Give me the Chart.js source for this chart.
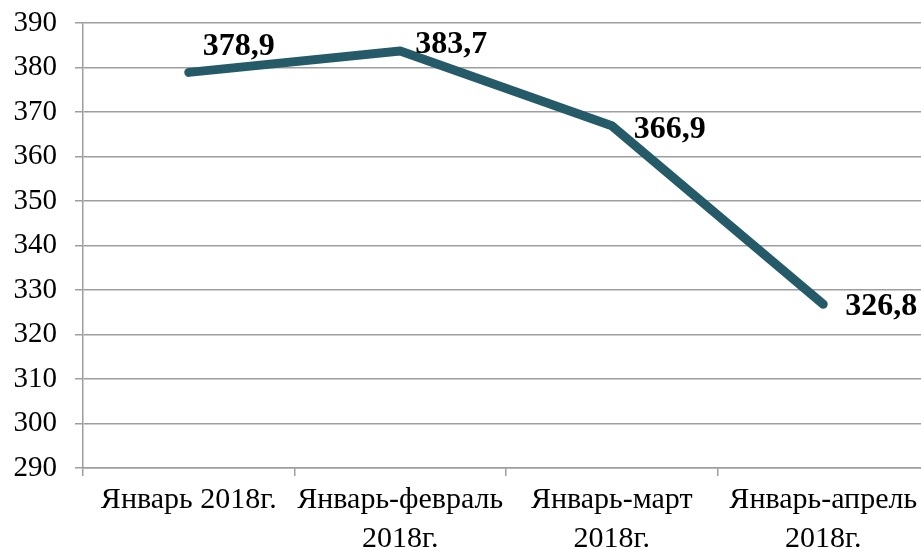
<!DOCTYPE html>
<html lang="ru">
<head>
    <meta charset="UTF-8">
    <title>Январь-апрель 2018г.</title>
    <script src="https://cdn.jsdelivr.net/npm/chart.js"></script>
    <style>
        html, body {
            margin: 0;
            padding: 0;
            background: #ffffff;
            overflow: hidden;
        }
        .wrap {
            position: relative;
            width: 940px;
            height: 549px;
        }
    </style>
</head>
<body>
    <div class="wrap">
        <canvas id="chart"></canvas>
    </div>

    <script>
        // Data
        const categories = [
            ['Январь 2018г.'],
            ['Январь-февраль', '2018г.'],
            ['Январь-март', '2018г.'],
            ['Январь-апрель', '2018г.']
        ];
        const values = [378.9, 383.7, 366.9, 326.8];
        const valueLabels = ['378,9', '383,7', '366,9', '326,8'];
        const yTicks = [290, 300, 310, 320, 330, 340, 350, 360, 370, 380, 390];

        const serif = "'Liberation Serif', 'Times New Roman', serif";

        // label offsets relative to the point (dx, dy)
        const labelShift = [[14, -26], [15, -6], [22, 4], [22, 2]];

        const valueLabelPlugin = {
            id: 'valueLabels',
            afterDatasetsDraw(chart) {
                const ctx = chart.ctx;
                const meta = chart.getDatasetMeta(0);
                ctx.save();
                ctx.font = 'bold 32px ' + serif;
                ctx.fillStyle = '#000000';
                ctx.textAlign = 'left';
                ctx.textBaseline = 'middle';
                meta.data.forEach((pt, i) => {
                    ctx.fillText(valueLabels[i], pt.x + labelShift[i][0], pt.y + labelShift[i][1]);
                });
                ctx.restore();
            }
        };

        new Chart(document.getElementById('chart'), {
            type: 'line',
            data: {
                labels: categories,
                datasets: [{
                    data: values,
                    borderColor: '#255b69',
                    borderWidth: 9,
                    borderCapStyle: 'round',
                    borderJoinStyle: 'round',
                    pointRadius: 0,
                    tension: 0
                }]
            },
            options: {
                responsive: true,
                maintainAspectRatio: false,
                animation: false,
                layout: {
                    padding: { top: 23, right: 11, left: 0, bottom: 0 }
                },
                plugins: {
                    legend: { display: false },
                    tooltip: { enabled: false }
                },
                scales: {
                    x: {
                        offset: true,
                        grid: {
                            offset: true,
                            drawOnChartArea: false,
                            color: '#9e9e9e',
                            lineWidth: 1.5,
                            tickLength: 8
                        },
                        border: { color: '#9e9e9e', width: 1.5 },
                        ticks: {
                            color: '#000000',
                            font: { family: serif, size: 30, lineHeight: 1.3 },
                            padding: 5,
                            maxRotation: 0,
                            autoSkip: false
                        },
                        afterFit(scale) {
                            scale.height = 81;
                            scale.paddingLeft = 0;
                            scale.paddingRight = 0;
                        }
                    },
                    y: {
                        min: 290,
                        max: 390,
                        afterBuildTicks(scale) {
                            scale.ticks = yTicks.map(v => ({ value: v }));
                        },
                        grid: {
                            color: '#9e9e9e',
                            lineWidth: 1.5,
                            tickLength: 8
                        },
                        border: { color: '#9e9e9e', width: 1.5 },
                        ticks: {
                            color: '#000000',
                            font: { family: serif, size: 29 },
                            padding: 18
                        },
                        afterFit(scale) {
                            scale.width = 83;
                            scale.paddingTop = 0;
                            scale.paddingBottom = 0;
                        }
                    }
                }
            },
            plugins: [valueLabelPlugin]
        });
    </script>
</body>
</html>
